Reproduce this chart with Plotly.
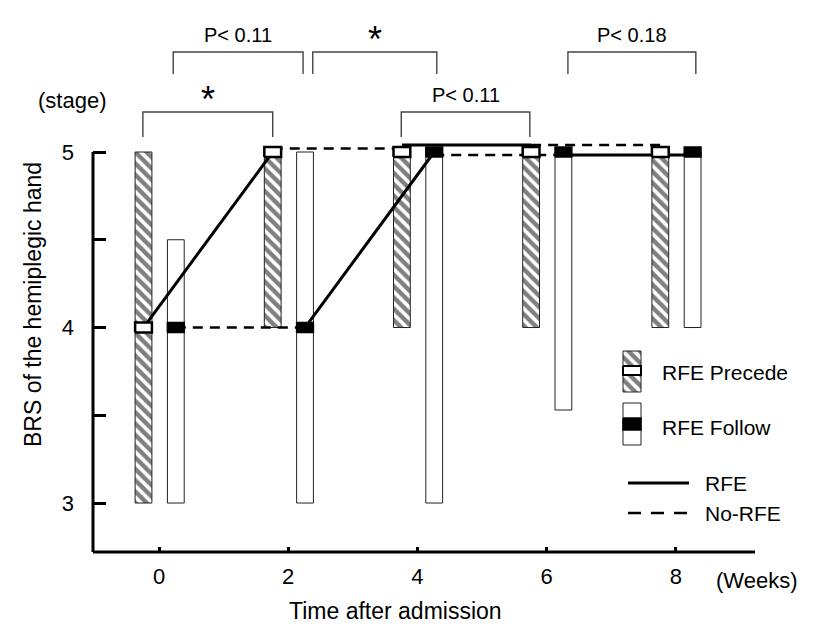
import plotly.graph_objects as go

# ---------------- data ----------------
weeks = [0, 2, 4, 6, 8]
week_labels = ["0", "2", "4", "6", "8"]
precede_low = [3, 4, 4, 4, 4]
precede_high = [5, 5, 5, 5, 5]
precede_median = [4, 5, 5, 5, 5]
follow_low = [3, 3, 3, 3.53, 4]
follow_high = [4.5, 5, 5, 5, 5]
follow_median = [4, 4, 5, 5, 5]
precede_phase = ["RFE", "No-RFE", "RFE", "No-RFE"]
follow_phase = ["No-RFE", "RFE", "No-RFE", "RFE"]
stage_ticks = [3, 3.5, 4, 4.5, 5]
stage_labels = ["3", "", "4", "", "5"]
comp_start = [-0.25, 0.22, 2.38, 3.75, 6.33]
comp_end = [1.76, 2.23, 4.30, 5.74, 8.31]
comp_label = ["*", "P< 0.11", "*", "P< 0.11", "P< 0.18"]
comp_tier = [0, 1, 1, 0, 1]

# ---------------- style ----------------
FONT = "Liberation Sans, Arial, Helvetica, sans-serif"
PRE_OFF, FOL_OFF = -0.24, 0.26
BAR_W = 0.26
MED_HW, MED_HH = 0.13, 0.029
PRE_SHIFT = [0, 0.02, 0.04, 0.04]
FOL_SHIFT = [0, 0, -0.017, -0.017]
XR = [-1.022, 10.294]
YR = [2.721, 5.8205]
PAGE = 8            # body margin of the html page
SL, ST = 93, 8      # screen position of the plot area's top-left corner
PW, PH = 731, 544
TIER_TOP = [5.228, 5.570]
TIER_LEG = [5.085, 5.445]
HATCH = dict(shape="\\", fgcolor="black", bgcolor="white", size=8, solidity=0.55)


def px(xs):
    return (xs - SL) / PW


def py(ys):
    return 1 - (ys - ST) / PH


fig = go.Figure()

# range bars
fig.add_trace(go.Bar(
    x=[w + PRE_OFF for w in weeks], base=precede_low,
    y=[h - l for h, l in zip(precede_high, precede_low)], width=BAR_W,
    marker=dict(color="white", line=dict(color="#222", width=1), pattern=HATCH),
    hoverinfo="skip"))
fig.add_trace(go.Bar(
    x=[w + FOL_OFF for w in weeks], base=follow_low,
    y=[h - l for h, l in zip(follow_high, follow_low)], width=BAR_W,
    marker=dict(color="white", line=dict(color="#222", width=1)),
    hoverinfo="skip"))

# connecting lines
for off, med, phase, shift in [(PRE_OFF, precede_median, precede_phase, PRE_SHIFT),
                               (FOL_OFF, follow_median, follow_phase, FOL_SHIFT)]:
    for i, ph in enumerate(phase):
        solid = ph == "RFE"
        fig.add_trace(go.Scatter(
            x=[weeks[i] + off, weeks[i + 1] + off],
            y=[med[i] + shift[i], med[i + 1] + shift[i]],
            mode="lines",
            line=dict(color="black", width=3 if solid else 2.5,
                      dash="solid" if solid else "10px,7px"),
            hoverinfo="skip"))

# median markers (rectangles)
for off, med, fill, lw in [(PRE_OFF, precede_median, "white", 2.5),
                           (FOL_OFF, follow_median, "black", 1.5)]:
    xs, ys = [], []
    for w, m in zip(weeks, med):
        x = w + off
        xs += [x - MED_HW, x + MED_HW, x + MED_HW, x - MED_HW, x - MED_HW, None]
        ys += [m - MED_HH, m - MED_HH, m + MED_HH, m + MED_HH, m - MED_HH, None]
    fig.add_trace(go.Scatter(x=xs, y=ys, mode="lines", fill="toself", fillcolor=fill,
                             line=dict(color="black", width=lw), hoverinfo="skip"))

shapes = []
annotations = []

# comparison brackets
for x0, x1, lab, t in zip(comp_start, comp_end, comp_label, comp_tier):
    top, leg = TIER_TOP[t], TIER_LEG[t]
    shapes.append(dict(type="path", xref="x", yref="y",
                       path=f"M {x0},{leg} L {x0},{top} L {x1},{top} L {x1},{leg}",
                       line=dict(color="#444", width=1.4)))
    if lab == "*":
        annotations.append(dict(x=(x0 + x1) / 2, y=top, xref="x", yref="y", text="*",
                                showarrow=False, yanchor="middle", yshift=12,
                                font=dict(family=FONT, size=36, color="black")))
    else:
        annotations.append(dict(x=(x0 + x1) / 2, y=top, xref="x", yref="y", text=lab,
                                showarrow=False, yanchor="middle", yshift=17,
                                font=dict(family=FONT, size=20, color="black")))

# axis lines
shapes.append(dict(type="line", xref="paper", yref="y", x0=0, x1=0, y0=5, y1=YR[0],
                   line=dict(color="black", width=3)))
shapes.append(dict(type="line", xref="paper", yref="paper", x0=0, x1=px(755), y0=0, y1=0,
                   line=dict(color="black", width=3)))

# texts outside plot
annotations += [
    dict(x=px(72), y=py(101), xref="paper", yref="paper", text="(stage)", showarrow=False,
         xanchor="center", yanchor="middle", font=dict(family=FONT, size=22, color="black")),
    dict(x=px(757), y=py(580), xref="paper", yref="paper", text="(Weeks)", showarrow=False,
         xanchor="center", yanchor="middle", font=dict(family=FONT, size=22, color="black")),
    dict(x=px(395), y=py(611), xref="paper", yref="paper", text="Time after admission",
         showarrow=False, xanchor="center", yanchor="middle",
         font=dict(family=FONT, size=23, color="black")),
    dict(x=px(33), y=py(305), xref="paper", yref="paper", text="BRS of the hemiplegic hand",
         showarrow=False, xanchor="center", yanchor="middle", textangle=-90,
         font=dict(family=FONT, size=23, color="black")),
]

# legend (auxiliary axes in screen-pixel units)
fig.add_trace(go.Bar(x=[632], base=[351], y=[41], width=18, xaxis="x2", yaxis="y2",
                     marker=dict(color="white", line=dict(color="#222", width=1), pattern=HATCH),
                     hoverinfo="skip"))
fig.add_trace(go.Bar(x=[632], base=[403], y=[42], width=18, xaxis="x2", yaxis="y2",
                     marker=dict(color="white", line=dict(color="#222", width=1)),
                     hoverinfo="skip"))
fig.add_trace(go.Scatter(x=[623, 641, 641, 623, 623], y=[366, 366, 375, 375, 366],
                         xaxis="x2", yaxis="y2", mode="lines", fill="toself", fillcolor="white",
                         line=dict(color="black", width=2), hoverinfo="skip"))
fig.add_trace(go.Scatter(x=[623, 641, 641, 623, 623], y=[418, 418, 430, 430, 418],
                         xaxis="x2", yaxis="y2", mode="lines", fill="toself", fillcolor="black",
                         line=dict(color="black", width=1.5), hoverinfo="skip"))
fig.add_trace(go.Scatter(x=[628, 689], y=[483, 483], xaxis="x2", yaxis="y2", mode="lines",
                         line=dict(color="black", width=3), hoverinfo="skip"))
fig.add_trace(go.Scatter(x=[628, 689], y=[513, 513], xaxis="x2", yaxis="y2", mode="lines",
                         line=dict(color="black", width=2.5, dash="13px,10px"), hoverinfo="skip"))
for txt, xl, yl in [("RFE Precede", 660, 372), ("RFE Follow", 660, 427),
                    ("RFE", 703, 483), ("No-RFE", 703, 513)]:
    annotations.append(dict(x=px(xl), y=py(yl), xref="paper", yref="paper", text=txt,
                            showarrow=False, xanchor="left", yanchor="middle",
                            font=dict(family=FONT, size=21, color="black")))

fig.update_layout(
    width=824 - PAGE, height=635 - PAGE,
    margin=dict(l=SL - PAGE, r=0, t=ST - PAGE, b=635 - PAGE - PH - (ST - PAGE)),
    plot_bgcolor="white", paper_bgcolor="white",
    barmode="overlay", showlegend=False,
    font=dict(family=FONT, color="black"),
    xaxis=dict(range=XR, tickvals=weeks, ticktext=week_labels, ticks="inside", ticklen=5,
               tickwidth=2.5, tickcolor="black", showline=False, showgrid=False, zeroline=False,
               tickfont=dict(family=FONT, size=22, color="black"), ticklabelstandoff=9),
    yaxis=dict(range=YR, tickvals=stage_ticks, ticktext=stage_labels, ticks="inside", ticklen=13,
               tickwidth=2.5, tickcolor="black", showline=False, showgrid=False, zeroline=False,
               tickfont=dict(family=FONT, size=22, color="black"), ticklabelstandoff=18),
    xaxis2=dict(range=[SL, SL + PW], domain=[0, 1], anchor="y2", visible=False, overlaying="x"),
    yaxis2=dict(range=[ST + PH, ST], domain=[0, 1], anchor="x2", visible=False, overlaying="y"),
    shapes=shapes, annotations=annotations,
)

fig.write_html("out.html")
